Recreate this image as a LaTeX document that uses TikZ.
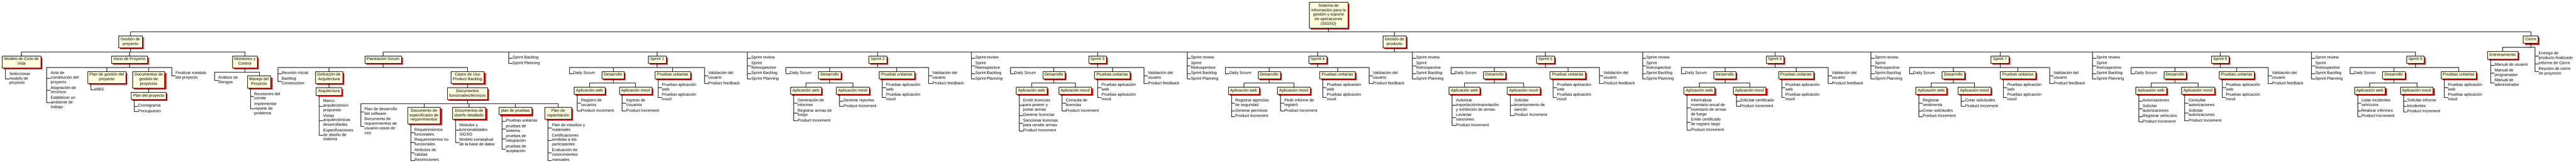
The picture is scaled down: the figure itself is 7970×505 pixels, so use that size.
\documentclass[tikz,border=0pt]{standalone}
\usepackage{fontspec}
\setmainfont{Liberation Sans}
\usetikzlibrary{shadows}

\definecolor{wbscream}{HTML}{FFFFDD}
\newcommand{\boxtext}[1]{\begin{tabular}{@{}c@{}}#1\end{tabular}}
\newcommand{\leaftext}[1]{\begin{tabular}{@{}l@{}}#1\end{tabular}}

\tikzstyle{wbsbox}=[draw, line width=1pt, fill=wbscream, anchor=north, inner xsep=6pt, inner ysep=4.5pt,
  drop shadow={shadow xshift=4.5pt, shadow yshift=-4.5pt, fill=red, opacity=1},
  font=\fontsize{12.5}{14}\selectfont]
\tikzstyle{leaf}=[anchor=north west, inner sep=0pt, font=\fontsize{12.5}{14}\selectfont]
\tikzstyle{link}=[line width=1pt]

\begin{document}
\begin{tikzpicture}[x=1pt, y=1pt]
    \path[use as bounding box, fill=white] (0,0) rectangle (7970,-505);

    % top levels
    \node[wbsbox] (sigso) at (4110.5,-6.5) {\boxtext{Sistema de\\Información para la\\gestión y soporte\\de operaciones\\(SIGSO)}};
    \node[wbsbox] (gproy) at (403.5,-110) {\boxtext{Gestión de\\proyecto}};
    \node[wbsbox] (gprod) at (4314.5,-110) {\boxtext{Gestión de\\producto}};
    \node[wbsbox] (cierre) at (7830,-110) {\boxtext{Cierre}};

    % gestion de proyecto
    \node[wbsbox] (modelo) at (66.5,-171.5) {\boxtext{Modelo de Ciclo de\\Vida}};
    \node[leaf] (selec) at ([xshift=22pt,yshift=-12pt]modelo.south west) {\leaftext{Seleccionar\\modelo de\\proyecto}};

    \node[wbsbox] (inicio) at (400.9,-171.5) {\boxtext{Inicio de Proyecto}};
    \node[leaf] (acta) at (156.6,-219.5) {\leaftext{Acta de\\constitución del\\proyecto}};
    \node[leaf] (asign) at ([yshift=-2.5pt]acta.south west) {\leaftext{Asignación de\\recursos}};
    \node[leaf] (ambiente) at ([yshift=-2.5pt]asign.south west) {\leaftext{Establecer un\\ambiente de\\trabajo}};
    \node[wbsbox] (plangest) at (330.4,-219.5) {\boxtext{Plan de gestión del\\proyecto}};
    \node[leaf] (wbs) at ([xshift=22pt,yshift=-12pt]plangest.south west) {\leaftext{WBS}};
    \node[wbsbox] (docgest) at (460,-219.5) {\boxtext{Documentos de\\gestión de\\proyectos}};
    \node[wbsbox] (planproy) at (460,-283.5) {\boxtext{Plan del proyecto}};
    \node[leaf] (crono) at ([xshift=22pt,yshift=-12pt]planproy.south west) {\leaftext{Cronograma}};
    \node[leaf] (presu) at ([yshift=-2.5pt]crono.south west) {\leaftext{Presupuesto}};
    \node[leaf] (estatuto) at (543.2,-219.5) {\leaftext{Finalizar estatuto\\del proyecto}};

    \node[wbsbox] (monit) at (757.6,-171.5) {\boxtext{Monitoreo y\\Control}};
    \node[leaf] (riesgos) at (675.3,-233.5) {\leaftext{Análisis de\\Riesgos}};
    \node[wbsbox] (manejo) at (801.5,-233.5) {\boxtext{Manejo del\\Proyecto}};
    \node[leaf] (comite) at ([xshift=22pt,yshift=-12pt]manejo.south west) {\leaftext{Reuniones del\\cómite}};
    \node[leaf] (reporte) at ([yshift=-2.5pt]comite.south west) {\leaftext{Implementar\\reporte de\\problema}};

    % gestion de producto: planeacion
    \node[wbsbox] (plscrum) at (1185,-171.5) {\boxtext{Planeación Scrum}};
    \node[leaf] (reunion) at (871.4,-219.5) {\leaftext{Reunión Inicial}};
    \node[leaf] (backcons) at ([yshift=-2.5pt]reunion.south west) {\leaftext{Backlog\\Construction}};
    \node[wbsbox] (defarq) at (1018,-219.5) {\boxtext{Definición de\\Arquitectura}};
    \node[wbsbox] (arq) at (1018,-269.5) {\boxtext{Arquitectura}};
    \node[leaf] (marco) at ([xshift=22pt,yshift=-12pt]arq.south west) {\leaftext{Marco\\arquitectonico\\propuesto}};
    \node[leaf] (vistas) at ([yshift=-2.5pt]marco.south west) {\leaftext{Vistas\\arquitectónicas\\desarrolladas}};
    \node[leaf] (especif) at ([yshift=-2.5pt]vistas.south west) {\leaftext{Especificaciones\\de diseño de\\sistema}};
    \node[wbsbox] (casos) at (1446.4,-219.5) {\boxtext{Casos de Uso\\Product Backlog}};
    \node[wbsbox] (docfunc) at (1446.5,-269.5) {\boxtext{Documentos\\funcionales/técnicos}};
    \node[leaf] (plandes) at (1127.5,-330) {\leaftext{Plan de desarrollo\\del software}};
    \node[leaf] (docreq) at ([yshift=-2.5pt]plandes.south west) {\leaftext{Documento de\\requerimientos de\\usuario-casos de\\uso}};
    \node[wbsbox] (docesp) at (1311.7,-330) {\boxtext{Documento de\\especificaión de\\requerimientos}};
    \node[leaf] (reqf) at ([xshift=22pt,yshift=-12pt]docesp.south west) {\leaftext{Requerimientos\\funconales}};
    \node[leaf] (reqnf) at ([yshift=-2.5pt]reqf.south west) {\leaftext{Requerimientos no\\funcionales}};
    \node[leaf] (atrib) at ([yshift=-2.5pt]reqnf.south west) {\leaftext{Atributos de\\calidad}};
    \node[leaf] (restr) at ([yshift=-2.5pt]atrib.south west) {\leaftext{Restricciones}};
    \node[wbsbox] (docdis) at (1451.3,-330) {\boxtext{Documentos de\\diseño detallado}};
    \node[leaf] (modulos) at ([xshift=22pt,yshift=-12pt]docdis.south west) {\leaftext{Módulos y\\funcionalidades\\SIGSO}};
    \node[leaf] (modbd) at ([yshift=-2.5pt]modulos.south west) {\leaftext{Modelo conseptual\\de la base de datos}};
    \node[wbsbox] (plpru) at (1594.6,-330) {\boxtext{plan de pruebas}};
    \node[leaf] (pruni) at ([xshift=22pt,yshift=-12pt]plpru.south west) {\leaftext{Pruebas unitarias}};
    \node[leaf] (prsis) at ([yshift=-2.5pt]pruni.south west) {\leaftext{pruebas de\\sistema}};
    \node[leaf] (print) at ([yshift=-2.5pt]prsis.south west) {\leaftext{pruebas de\\integración}};
    \node[leaf] (pracep) at ([yshift=-2.5pt]print.south west) {\leaftext{pruebas de\\aceptación}};
    \node[wbsbox] (plcap) at (1726.8,-330) {\boxtext{Plan de\\capacitación}};
    \node[leaf] (estudios) at ([xshift=22pt,yshift=-12pt]plcap.south west) {\leaftext{Plan de estudios y\\materiales}};
    \node[leaf] (certif) at ([yshift=-2.5pt]estudios.south west) {\leaftext{Certificaciones\\emitidas a los\\participantes}};
    \node[leaf] (evalua) at ([yshift=-2.5pt]certif.south west) {\leaftext{Evaluación de\\conocimientos}};
    \node[leaf] (manuales) at ([yshift=-2.5pt]evalua.south west) {\leaftext{manuales}};
    \node[leaf] (sback1) at (1585.6,-171.5) {\leaftext{Sprint Backlog}};
    \node[leaf] (splan1) at ([yshift=-2.5pt]sback1.south west) {\leaftext{Sprint Planning}};

    % sprints
    \foreach \k/\sx/\dl/\dx/\wx/\mx/\px in {
        1/2033.5/1761.6/1896.7/1823.8/1966.5/2081.2,
        2/2715.6/2431.2/2567.0/2493.5/2638.6/2774.5,
        3/3395.5/3125.9/3260.4/3191.5/3326.5/3441.2,
        4/4076.8/3791.5/3927.1/3847.7/4002.9/4138.1,
        5/4781.5/4488.7/4623.8/4530.9/4713.9/4850.3,
        6/5491.5/5201.7/5336.5/5257.5/5413.0/5557.0,
        7/6187.6/5907.4/6043.3/5974.8/6109.0/6243.1,
        8/6869.0/6593.3/6729.0/6655.0/6800.4/6920.0,
        9/7473.0/7270.5/7406.0/7332.0/7477.1/7607.0}{
      \node[wbsbox] (s\k) at (\sx,-171.5) {\boxtext{Sprint \k}};
      \node[leaf] (daily\k) at ({\dl+12},-219.5) {\leaftext{Daily Scrum}};
      \node[wbsbox] (des\k) at (\dx,-219.5) {\boxtext{Desarrollo}};
      \node[wbsbox] (web\k) at (\wx,-267.5) {\boxtext{Aplicación web}};
      \node[wbsbox] (mov\k) at (\mx,-267.5) {\boxtext{Aplicación movil}};
      \node[wbsbox] (pru\k) at (\px,-219.5) {\boxtext{Pruebas unitarias}};
      \node[leaf] (pweb\k) at ([xshift=22pt,yshift=-12pt]pru\k.south west) {\leaftext{Pruebas aplicación\\web}};
      \node[leaf] (pmov\k) at ([yshift=-2.5pt]pweb\k.south west) {\leaftext{Pruebas aplicación\\movil}};

      \draw[link] (gprod.south) -- ++(0,-12) -| (s\k.north);
      \draw[link] (s\k.south) -- ++(0,-12) -| ([xshift=-12pt]daily\k.west) -- (daily\k.west);
      \draw[link] (s\k.south) -- ++(0,-12) -| (des\k.north);
      \draw[link] (s\k.south) -- ++(0,-12) -| (pru\k.north);
      \draw[link] (des\k.south) -- ++(0,-12) -| (web\k.north);
      \draw[link] (des\k.south) -- ++(0,-12) -| (mov\k.north);
      \draw[link] ([xshift=-12pt]pweb\k.west |- pru\k.south) |- (pweb\k.west);
      \draw[link] ([xshift=-12pt]pmov\k.west |- pru\k.south) |- (pmov\k.west);
    }

    \foreach \k/\vx in {1/2179.5, 2/2872.8, 3/3539.7, 4/4235.7, 5/4948.7, 6/5655.4, 7/6341.7, 8/7017.2}{
      \node[leaf] (valid\k) at ({\vx+12},-219.5) {\leaftext{Validación del\\usuario}};
      \node[leaf] (feed\k) at ([yshift=-2.5pt]valid\k.south west) {\leaftext{Product feedback}};
      \draw[link] (s\k.south) -- ++(0,-12) -| ([xshift=-12pt]valid\k.west) -- (valid\k.west);
      \draw[link] (s\k.south) -- ++(0,-12) -| ([xshift=-12pt]feed\k.west) -- (feed\k.west);
    }

    \foreach \k/\rx in {2/2312.5, 3/3005.3, 4/3672.3, 5/4369.5, 6/5081.5, 7/5788.7, 8/6474.4, 9/7151.4}{
      \node[leaf] (review\k) at ({\rx+12},-171.5) {\leaftext{Sprint review}};
      \node[leaf] (retro\k) at ([yshift=-2.5pt]review\k.south west) {\leaftext{Sprint\\Retrospective}};
      \node[leaf] (sback\k) at ([yshift=-2.5pt]retro\k.south west) {\leaftext{Sprint Backlog}};
      \node[leaf] (splan\k) at ([yshift=-2.5pt]sback\k.south west) {\leaftext{Sprint Planning}};
      \foreach \ch in {review\k, retro\k, sback\k, splan\k}
        \draw[link] (gprod.south) -- ++(0,-12) -| ([xshift=-12pt]\ch.west) -- (\ch.west);
    }

    % sprint deliverables
    \node[leaf] (w1a) at ([xshift=22pt,yshift=-12pt]web1.south west) {\leaftext{Registro de\\usuarios}};
    \node[leaf] (w1b) at ([yshift=-2.5pt]w1a.south west) {\leaftext{Product Increment}};
    \node[leaf] (m1a) at ([xshift=22pt,yshift=-12pt]mov1.south west) {\leaftext{Ingreso de\\Usuarios}};
    \node[leaf] (m1b) at ([yshift=-2.5pt]m1a.south west) {\leaftext{Product Increment}};

    \node[leaf] (w2a) at ([xshift=22pt,yshift=-12pt]web2.south west) {\leaftext{Generación de\\informes}};
    \node[leaf] (w2b) at ([yshift=-2.5pt]w2a.south west) {\leaftext{Registrar armas de\\fuego}};
    \node[leaf] (w2c) at ([yshift=-2.5pt]w2b.south west) {\leaftext{Product Increment}};
    \node[leaf] (m2a) at ([xshift=22pt,yshift=-12pt]mov2.south west) {\leaftext{Generar reportes}};
    \node[leaf] (m2b) at ([yshift=-2.5pt]m2a.south west) {\leaftext{Product Increment}};

    \node[leaf] (w3a) at ([xshift=22pt,yshift=-12pt]web3.south west) {\leaftext{Emitir licencias\\para poseer y\\portar armas}};
    \node[leaf] (w3b) at ([yshift=-2.5pt]w3a.south west) {\leaftext{Generar licencias}};
    \node[leaf] (w3c) at ([yshift=-2.5pt]w3b.south west) {\leaftext{Sancionar licencias\\para vender armas}};
    \node[leaf] (w3d) at ([yshift=-2.5pt]w3c.south west) {\leaftext{Product Increment}};
    \node[leaf] (m3a) at ([xshift=22pt,yshift=-12pt]mov3.south west) {\leaftext{Consulta de\\licencias}};
    \node[leaf] (m3b) at ([yshift=-2.5pt]m3a.south west) {\leaftext{Product Increment}};

    \node[leaf] (w4a) at ([xshift=22pt,yshift=-12pt]web4.south west) {\leaftext{Registrar agencias\\de seguridad}};
    \node[leaf] (w4b) at ([yshift=-2.5pt]w4a.south west) {\leaftext{Generar permisos}};
    \node[leaf] (w4c) at ([yshift=-2.5pt]w4b.south west) {\leaftext{Product Increment}};
    \node[leaf] (m4a) at ([xshift=22pt,yshift=-12pt]mov4.south west) {\leaftext{Pedir informe de\\registró}};
    \node[leaf] (m4b) at ([yshift=-2.5pt]m4a.south west) {\leaftext{Product Increment}};

    \node[leaf] (w5a) at ([xshift=22pt,yshift=-12pt]web5.south west) {\leaftext{Autorizar\\importación/exportación\\y exhibición de armas}};
    \node[leaf] (w5b) at ([yshift=-2.5pt]w5a.south west) {\leaftext{Levantar\\sanciones}};
    \node[leaf] (w5c) at ([yshift=-2.5pt]w5b.south west) {\leaftext{Product Increment}};
    \node[leaf] (m5a) at ([xshift=22pt,yshift=-12pt]mov5.south west) {\leaftext{Solicitar\\levantamiento de\\sancón}};
    \node[leaf] (m5b) at ([yshift=-2.5pt]m5a.south west) {\leaftext{Product Increment}};

    \node[leaf] (w6a) at ([xshift=22pt,yshift=-12pt]web6.south west) {\leaftext{Informalizar\\inventario anual de\\inventario de armas\\de fuego}};
    \node[leaf] (w6b) at ([yshift=-2.5pt]w6a.south west) {\leaftext{Emitir certificado\\de registro largo}};
    \node[leaf] (w6c) at ([yshift=-2.5pt]w6b.south west) {\leaftext{Product Increment}};
    \node[leaf] (m6a) at ([xshift=22pt,yshift=-12pt]mov6.south west) {\leaftext{Solicitar certificado}};
    \node[leaf] (m6b) at ([yshift=-2.5pt]m6a.south west) {\leaftext{Product Increment}};

    \node[leaf] (w7a) at ([xshift=22pt,yshift=-12pt]web7.south west) {\leaftext{Registrar\\vestimenta}};
    \node[leaf] (w7b) at ([yshift=-2.5pt]w7a.south west) {\leaftext{Crear solicitudes}};
    \node[leaf] (w7c) at ([yshift=-2.5pt]w7b.south west) {\leaftext{Product Increment}};
    \node[leaf] (m7a) at ([xshift=22pt,yshift=-12pt]mov7.south west) {\leaftext{Crear solicitudes}};
    \node[leaf] (m7b) at ([yshift=-2.5pt]m7a.south west) {\leaftext{Product Increment}};

    \node[leaf] (w8a) at ([xshift=22pt,yshift=-12pt]web8.south west) {\leaftext{Autorizaciones}};
    \node[leaf] (w8b) at ([yshift=-2.5pt]w8a.south west) {\leaftext{Solicitar\\autorizaciones}};
    \node[leaf] (w8c) at ([yshift=-2.5pt]w8b.south west) {\leaftext{Registrar vehiculos}};
    \node[leaf] (w8d) at ([yshift=-2.5pt]w8c.south west) {\leaftext{Product Increment}};
    \node[leaf] (m8a) at ([xshift=22pt,yshift=-12pt]mov8.south west) {\leaftext{Consultar\\autorizaciones}};
    \node[leaf] (m8b) at ([yshift=-2.5pt]m8a.south west) {\leaftext{Solicitar\\autorizaciones}};
    \node[leaf] (m8c) at ([yshift=-2.5pt]m8b.south west) {\leaftext{Product Increment}};

    \node[leaf] (w9a) at ([xshift=22pt,yshift=-12pt]web9.south west) {\leaftext{Listar incidentes\\vehículos}};
    \node[leaf] (w9b) at ([yshift=-2.5pt]w9a.south west) {\leaftext{Realizar informes}};
    \node[leaf] (w9c) at ([yshift=-2.5pt]w9b.south west) {\leaftext{Product Increment}};
    \node[leaf] (m9a) at ([xshift=22pt,yshift=-12pt]mov9.south west) {\leaftext{Solicitar informe}};
    \node[leaf] (m9b) at ([yshift=-2.5pt]m9a.south west) {\leaftext{Incidentes}};
    \node[leaf] (m9c) at ([yshift=-2.5pt]m9b.south west) {\leaftext{Product Increment}};

    % cierre
    \node[wbsbox] (entren) at (7743,-158) {\boxtext{Entrenamiento}};
    \node[leaf] (manusu) at ([xshift=22pt,yshift=-12pt]entren.south west) {\leaftext{Manual de usuario}};
    \node[leaf] (manprog) at ([yshift=-2.5pt]manusu.south west) {\leaftext{Manual de\\programador}};
    \node[leaf] (manadm) at ([yshift=-2.5pt]manprog.south west) {\leaftext{Manual de\\administrador}};
    \node[leaf] (entrega) at (7854.4,-158) {\leaftext{Entrega de\\producto finalizado}};
    \node[leaf] (informe) at ([yshift=-2.5pt]entrega.south west) {\leaftext{Informe de Cierre}};
    \node[leaf] (reuncierre) at ([yshift=-2.5pt]informe.south west) {\leaftext{Reunión de cierre\\de proyectro}};

    % box to box
    \foreach \pa/\ch in {sigso/gproy, sigso/gprod, sigso/cierre, gproy/modelo, gproy/inicio, gproy/monit,
        inicio/plangest, inicio/docgest, docgest/planproy, monit/manejo, gprod/plscrum, plscrum/defarq,
        plscrum/casos, defarq/arq, casos/docfunc, docfunc/docesp, docfunc/docdis, docfunc/plpru,
        docfunc/plcap, cierre/entren}
      \draw[link] (\pa.south) -- ++(0,-12) -| (\ch.north);

    % leaves hanging on a bus
    \foreach \pa/\ch in {inicio/acta, inicio/asign, inicio/ambiente, inicio/estatuto, monit/riesgos,
        plscrum/reunion, plscrum/backcons, docfunc/plandes, docfunc/docreq, gprod/sback1, gprod/splan1,
        cierre/entrega, cierre/informe, cierre/reuncierre}
      \draw[link] (\pa.south) -- ++(0,-12) -| ([xshift=-12pt]\ch.west) -- (\ch.west);

    % leaves under a box
    \foreach \pa/\ch in {modelo/selec, plangest/wbs, planproy/crono, planproy/presu, manejo/comite,
        manejo/reporte, arq/marco, arq/vistas, arq/especif, docesp/reqf, docesp/reqnf, docesp/atrib,
        docesp/restr, docdis/modulos, docdis/modbd, plpru/pruni, plpru/prsis, plpru/print, plpru/pracep,
        plcap/estudios, plcap/certif, plcap/evalua, plcap/manuales, entren/manusu, entren/manprog,
        entren/manadm,
        web1/w1a, web1/w1b, mov1/m1a, mov1/m1b,
        web2/w2a, web2/w2b, web2/w2c, mov2/m2a, mov2/m2b,
        web3/w3a, web3/w3b, web3/w3c, web3/w3d, mov3/m3a, mov3/m3b,
        web4/w4a, web4/w4b, web4/w4c, mov4/m4a, mov4/m4b,
        web5/w5a, web5/w5b, web5/w5c, mov5/m5a, mov5/m5b,
        web6/w6a, web6/w6b, web6/w6c, mov6/m6a, mov6/m6b,
        web7/w7a, web7/w7b, web7/w7c, mov7/m7a, mov7/m7b,
        web8/w8a, web8/w8b, web8/w8c, web8/w8d, mov8/m8a, mov8/m8b, mov8/m8c,
        web9/w9a, web9/w9b, web9/w9c, mov9/m9a, mov9/m9b, mov9/m9c}
      \draw[link] ([xshift=-12pt]\ch.west |- \pa.south) |- (\ch.west);
  \end{tikzpicture}
\end{document}
